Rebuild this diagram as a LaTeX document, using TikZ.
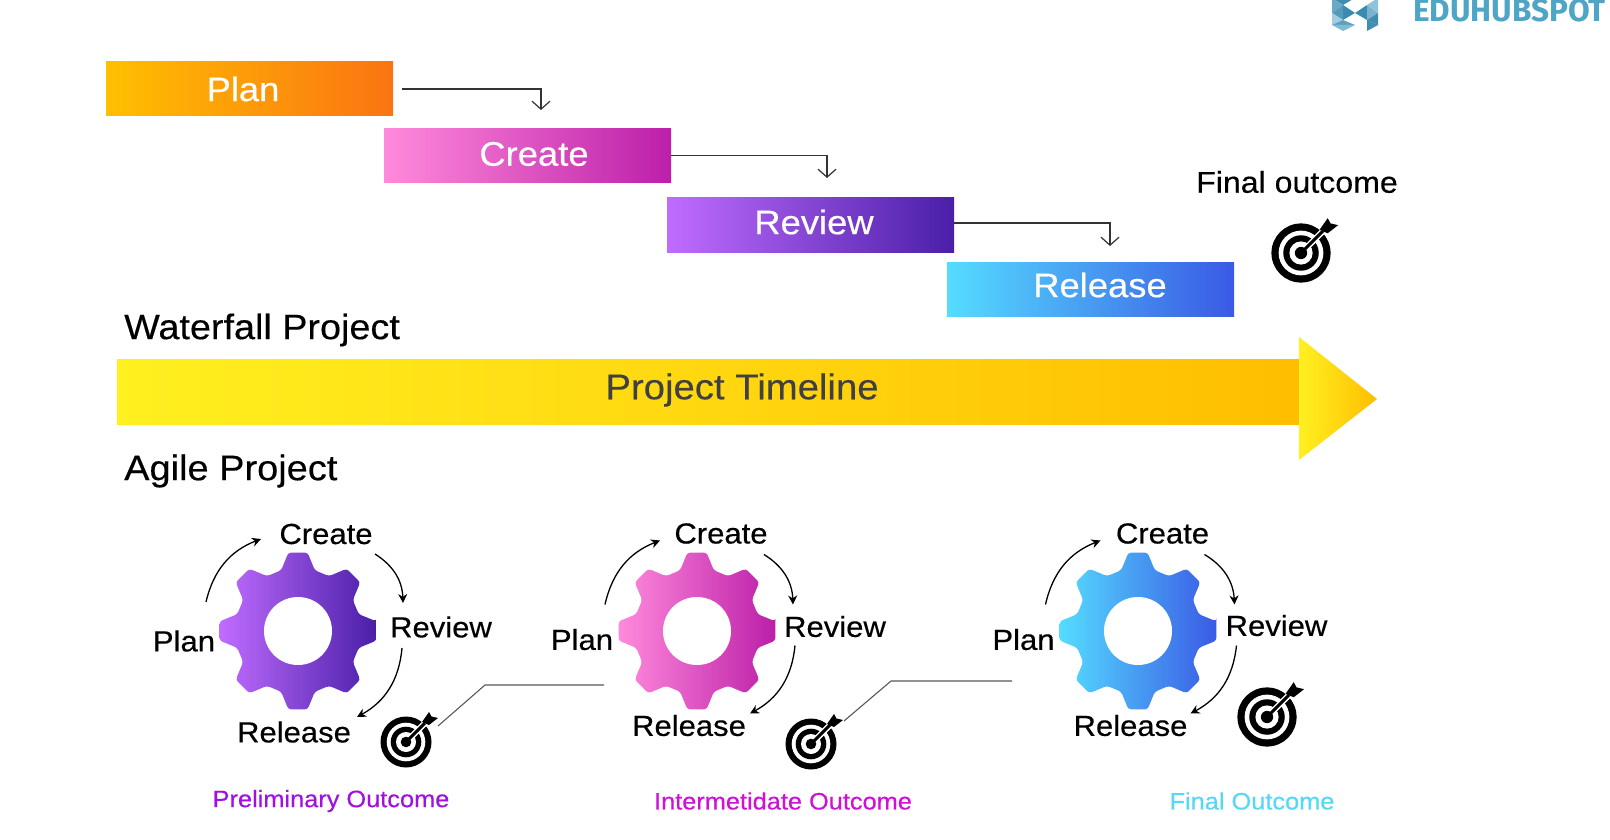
\documentclass[tikz,border=0pt]{standalone}
\usepackage{fontspec}
\setmainfont[FakeStretch=1.07,FakeBold=0.35]{Liberation Sans}
\newfontfamily\logofont{Fira Sans}
\usetikzlibrary{arrows.meta}

\definecolor{planl}{HTML}{FFC000}
\definecolor{planr}{HTML}{FA7412}
\definecolor{pinkl}{HTML}{FF8ADC}
\definecolor{pinkr}{HTML}{BC1FA8}
\definecolor{purpl}{HTML}{C06CFF}
\definecolor{purpr}{HTML}{4A1FA8}
\definecolor{bluel}{HTML}{55DCFF}
\definecolor{bluer}{HTML}{3A5AE5}
\definecolor{timel}{HTML}{FFF020}
\definecolor{timer}{HTML}{FFBE00}

\tikzset{
	barbox/.style={minimum width=287, minimum height=54, inner sep=0, outer sep=0},
	bartext/.style={inner sep=0, text=white, font=\fontsize{34}{36}\selectfont},
	headtext/.style={inner sep=0, anchor=west, font=\fontsize{35.3}{38}\selectfont},
	looplabel/.style={inner sep=0, font=\fontsize{29}{32}\selectfont},
	captext/.style={inner sep=0, font=\fontsize{23.7}{26}\selectfont},
	steparrow/.style={draw=black!80, line width=1.2, -{Straight Barb[length=8, width=18, line width=1.2]}},
	looparrow/.style={line width=1.3, -{Stealth[length=9, width=9]}},
	linkline/.style={draw=black!65, line width=1.1},
	pics/gear/.style args={#1 and #2}{code={
		\shade[left color=#1, right color=#2, rounded corners=3] (-7:79) \foreach \a in {0,45,...,315} { -- ({\a-7}:79) -- ({\a+7}:79) -- ({\a+15.5}:63) -- ({\a+29.5}:63) } -- cycle;
		\fill[white] (0,0) circle (34);
	}},
	pics/target/.style={code={
		\fill (0,0) circle (25.5);
		\fill[white] (0,0) circle (19.3);
		\fill (0,0) circle (15.3);
		\fill[white] (0,0) circle (10);
		\fill (0,0) circle (5.3);
		\draw[white, line width=6] (5,-5) -- (24,-24);
		\draw[line width=3] (0,0) -- (19,-19);
		\fill (16,-20) -- (23,-30) -- (25.5,-25.5) -- (32,-24) -- (23,-17) -- cycle;
		\coordinate (-c) at (0,0);
	}},
}

\begin{document}
\begin{tikzpicture}[x=1pt, y=-1pt]
	\useasboundingbox (0,0) rectangle (1610,840);

	\fill[color=white] (0,0) rectangle (1610,840);

	\fill[color={rgb,255:red,63;green,141;blue,179}] (1332,-2) -- (1343,5) -- (1355,-2) -- cycle;
	\fill[color={rgb,255:red,108;green,169;blue,198}] (1332,-2) -- (1343,5) -- (1332,13) -- cycle;
	\fill[color={rgb,255:red,85;green,153;blue,187}] (1343,5) -- (1332,13) -- (1343,20) -- cycle;
	\fill[color={rgb,255:red,58;green,139;blue,178}] (1343,5) -- (1343,20) -- (1355,13) -- cycle;
	\fill[color={rgb,255:red,160;green,205;blue,224}] (1332,13) -- (1343,20) -- (1332,25) -- cycle;
	\fill[color={rgb,255:red,95;green,160;blue,192}] (1332,25) -- (1343,20) -- (1355,25) -- cycle;
	\fill[color={rgb,255:red,131;green,187;blue,211}] (1332,25) -- (1343,31) -- (1355,25) -- cycle;
	\fill[color={rgb,255:red,58;green,139;blue,178}] (1367,5) -- (1367,20) -- (1355,13) -- cycle;
	\fill[color={rgb,255:red,122;green,179;blue,204}] (1367,5) -- (1378,13) -- (1367,20) -- cycle;
	\fill[color={rgb,255:red,143;green,195;blue,217}] (1378,-2) -- (1367,5) -- (1378,13) -- cycle;
	\fill[color={rgb,255:red,63;green,141;blue,179}] (1367,20) -- (1378,13) -- (1378,25) -- cycle;
	\fill[color={rgb,255:red,63;green,141;blue,179}] (1367,20) -- (1367,31) -- (1378,25) -- cycle;
	\node[inner sep=0, anchor=base east, text={rgb,255:red,79;green,165;blue,197}, font=\logofont\bfseries\fontsize{31.5}{34}\selectfont] (logo) at (1606,22) {EDUHUBSPOT};

	\node[barbox, left color=planl, right color=planr] (plan) at (249.5,89) {};
	\node[barbox, left color=pinkl, right color=pinkr] (create) at (527.5,155.5) {};
	\node[barbox, left color=purpl, right color=purpr] (review) at (810.5,225) {};
	\node[barbox, left color=bluel, right color=bluer] (release) at (1090.5,289) {};
	\node[bartext] (plantext) at (243,89) {Plan};
	\node[bartext] (createtext) at (534,154) {Create};
	\node[bartext] (reviewtext) at (814,222) {Review};
	\node[bartext] (releasetext) at (1100,285) {Release};

	\coordinate (plantip) at (541,110);
	\coordinate (createtip) at (827,178);
	\coordinate (reviewtip) at (1110,246);
	\draw[steparrow] ([shift={(9,0)}]plan.east) -| (plantip);
	\draw[steparrow] (create.east) -| (createtip);
	\draw[steparrow] ([shift={(0,-2)}]review.east) -| (reviewtip);

	\node[inner sep=0, font=\fontsize{30}{32}\selectfont] (finaltext) at (1297,182) {Final outcome};
	\pic[scale=1.16] (finaltarget) at (1301,253) {target};

	\node[headtext] (waterfall) at (124,330) {Waterfall Project};
	\node[barbox, minimum width=1182, minimum height=65, left color=timel, right color=timer] (shaft) at (708,392) {};
	\shade[left color=timel, right color=timer] (1299,337) -- (1377,399) -- (1299,460) -- cycle;
	\node[inner sep=0, text=black!75, font=\fontsize{35.8}{38}\selectfont] (timeline) at (742,390) {Project Timeline};
	\node[headtext, font=\fontsize{35.5}{38}\selectfont] (agile) at (124,471) {Agile Project};

	\pic at (298,631) {gear={purpl and purpr}};
	\node[looplabel] (plana) at (184,641) {Plan};
	\node[looplabel] (createa) at (326,534) {Create};
	\node[looplabel] (reviewa) at (441,627) {Review};
	\node[looplabel] (releasea) at (294,732) {Release};
	\draw[looparrow] ([shift={(22,-39)}]plana.center) to[bend left=28] ([shift={(-65,5)}]createa.center);
	\draw[looparrow] ([shift={(49,20)}]createa.center) to[bend left=28] ([shift={(-38,-24)}]reviewa.center);
	\draw[looparrow] ([shift={(-39,21)}]reviewa.center) to[bend left=28] ([shift={(63,-15)}]releasea.center);
	\pic (targeta) at (406,742) {target};
	\node[captext, text={rgb,255:red,160;green,16;blue,224}] (capa) at (331,801) {Preliminary Outcome};

	\pic at (697,631) {gear={pinkl and pinkr}};
	\node[looplabel] (planb) at (582,639.5) {Plan};
	\node[looplabel] (createb) at (721,533.5) {Create};
	\node[looplabel] (reviewb) at (835,626.5) {Review};
	\node[looplabel] (releaseb) at (689,725.5) {Release};
	\draw[looparrow] ([shift={(23,-35)}]planb.center) to[bend left=28] ([shift={(-61,7)}]createb.center);
	\draw[looparrow] ([shift={(43,21)}]createb.center) to[bend left=28] ([shift={(-42,-22)}]reviewb.center);
	\draw[looparrow] ([shift={(-40,19)}]reviewb.center) to[bend left=28] ([shift={(61,-12)}]releaseb.center);
	\pic (targetb) at (811,744) {target};
	\node[captext, text={rgb,255:red,208;green,16;blue,216}] (capb) at (783,801) {Intermetidate Outcome};

	\pic at (1138,631) {gear={bluel and bluer}};
	\node[looplabel] (planc) at (1023.5,639.5) {Plan};
	\node[looplabel] (createc) at (1162.5,533.5) {Create};
	\node[looplabel] (reviewc) at (1276.5,625.5) {Review};
	\node[looplabel] (releasec) at (1130.5,725.5) {Release};
	\draw[looparrow] ([shift={(22,-35)}]planc.center) to[bend left=28] ([shift={(-62,7)}]createc.center);
	\draw[looparrow] ([shift={(42,21)}]createc.center) to[bend left=28] ([shift={(-42,-21)}]reviewc.center);
	\draw[looparrow] ([shift={(-40,20)}]reviewc.center) to[bend left=28] ([shift={(60,-12)}]releasec.center);
	\pic[scale=1.16] (targetc) at (1267,717) {target};
	\node[captext, text={rgb,255:red,85;green,216;blue,245}] (capc) at (1252,801) {Final Outcome};

	\coordinate (benda) at (485,685);
	\coordinate (enda) at (604,685);
	\coordinate (bendb) at (891,681);
	\coordinate (endb) at (1012,681);
	\draw[linkline] ([shift={(32,-16)}]targeta-c) -- (benda) -- (enda);
	\draw[linkline] ([shift={(33,-23)}]targetb-c) -- (bendb) -- (endb);
\end{tikzpicture}
\end{document}
